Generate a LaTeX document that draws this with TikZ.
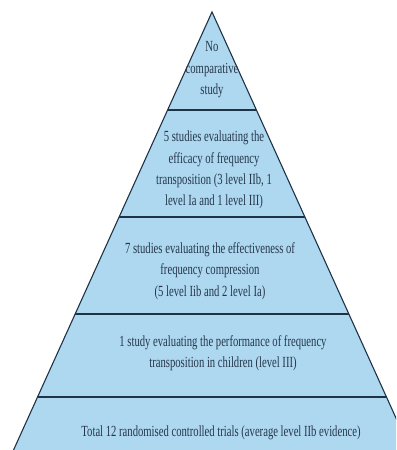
\documentclass[tikz,border=0pt]{standalone}
\usepackage{fontspec}
\setmainfont[FakeStretch=0.69]{Liberation Serif}
\definecolor{tierblue}{HTML}{ADD8F0}
\definecolor{edgeline}{HTML}{1F3346}
\definecolor{tiertext}{HTML}{26364A}
\begin{document}
\begin{tikzpicture}[x=1bp, y=-1bp,
    tier/.style={align=center, text=tiertext, inner sep=0pt,
      font=\fontsize{15.5}{21.5}\selectfont}]
  \useasboundingbox (0,0) rectangle (396,450);
  \clip (0,0) rectangle (396,450);
  % Pyramid body
  \filldraw[fill=tierblue, draw=edgeline, line width=1.1bp] (9,460) -- (212,12) -- (415,460);
  % Dividers between the tiers
  \foreach \y in {110,217,314,397}
    \draw[edgeline, line width=1.8bp] ({212-0.454*(\y-12)},\y) -- ({212+0.454*(\y-12)},\y);
  \node[tier] (top) at (212,70) {No\\comparative\\study};
  \node[tier] (second) at (214,170) {5 studies evaluating the\\efficacy of frequency\\transposition (3 level IIb, 1\\level Ia and 1 level III)};
  \node[tier] (third) at (210,271) {7 studies evaluating the effectiveness of\\frequency compression\\(5 level Iib and 2 level Ia)};
  \node[tier] (fourth) at (223,353) {1 study evaluating the performance of frequency\\transposition in children (level III)};
  \node[tier] (base) at (221,433) {Total 12 randomised controlled trials (average level IIb evidence)};
\end{tikzpicture}
\end{document}
